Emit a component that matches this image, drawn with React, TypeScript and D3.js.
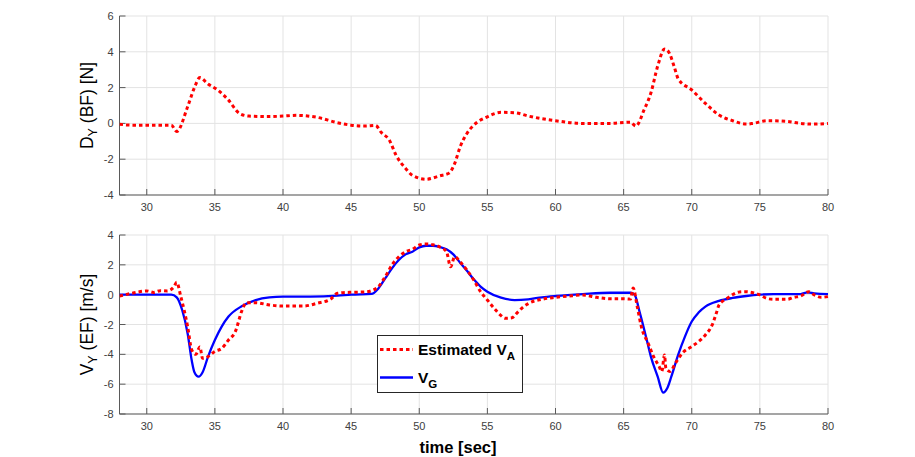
import React from "react";
import * as d3 from "d3";

const xTicks = [30, 35, 40, 45, 50, 55, 60, 65, 70, 75, 80];
const topYTicks = [-4, -2, 0, 2, 4, 6];
const botYTicks = [-8, -6, -4, -2, 0, 2, 4];

const dyTime = [28, 29, 30, 31, 31.8, 32.2, 33.0, 33.5, 33.9, 34.5, 35.2, 36.0, 36.8, 37.5, 39, 40, 41, 42.5, 44, 45, 46, 46.8, 47.2, 47.8, 48.3, 49, 49.5, 50.5, 51.5, 52.2, 52.6, 53, 53.5, 54, 55, 56, 57, 58, 60, 62, 64, 65.5, 65.9, 66.5, 67, 67.5, 68, 68.3, 68.7, 69, 70, 71, 72, 73, 74, 74.5, 75.5, 77, 78, 79, 80];
const dyValues = [-0.05, -0.1, -0.1, -0.1, -0.1, -0.45, 0.93, 2.0, 2.56, 2.2, 1.87, 1.3, 0.56, 0.41, 0.38, 0.41, 0.45, 0.34, 0.04, -0.1, -0.15, -0.12, -0.5, -0.93, -1.78, -2.52, -2.9, -3.12, -2.93, -2.77, -2.24, -1.31, -0.56, -0.1, 0.37, 0.62, 0.6, 0.41, 0.15, 0.0, 0.0, 0.07, -0.15, 0.75, 1.7, 3.2, 4.15, 4.0, 3.2, 2.5, 1.87, 1.12, 0.47, 0.15, -0.04, 0.0, 0.15, 0.11, 0.0, -0.04, 0.0];

const vaTime = [28, 29, 30, 30.5, 31, 31.5, 32, 32.2, 32.5, 33, 33.3, 33.6, 33.9, 34.1, 34.5, 35, 35.5, 36, 36.5, 37, 37.3, 38, 39, 40, 41.5, 42.5, 43.5, 44, 45, 46, 46.5, 47, 47.5, 48, 48.5, 49, 49.5, 50, 50.5, 51, 51.5, 52, 52.3, 52.6, 53, 53.5, 54, 54.5, 55, 55.5, 56, 56.3, 56.8, 57.2, 57.6, 58, 59, 60, 61, 62, 63, 64, 65, 65.5, 65.7, 66, 66.3, 66.8, 67.2, 67.6, 67.8, 68, 68.1, 68.4, 68.8, 69.3, 70, 70.5, 71, 71.5, 71.8, 72, 72.5, 73, 73.5, 74, 74.5, 75, 75.5, 76, 77, 77.5, 78, 78.6, 79, 79.5, 80];
const vaValues = [-0.1, 0.11, 0.25, 0.15, 0.27, 0.25, 0.53, 0.83, -0.13, -2.14, -3.7, -4.0, -3.5, -4.27, -4.15, -3.8, -3.6, -3.04, -2.48, -1.03, -0.54, -0.54, -0.69, -0.76, -0.76, -0.58, -0.29, 0.09, 0.16, 0.18, 0.27, 0.54, 1.2, 2.0, 2.54, 2.88, 3.04, 3.33, 3.4, 3.35, 3.2, 2.88, 1.87, 2.54, 2.2, 1.65, 0.98, 0.2, -0.36, -0.92, -1.4, -1.58, -1.55, -1.2, -0.85, -0.6, -0.31, -0.18, -0.09, -0.02, -0.18, -0.27, -0.27, -0.29, 0.45, -0.8, -2.14, -3.26, -4.15, -4.8, -5.15, -4.04, -4.93, -5.15, -4.6, -3.93, -3.48, -3.15, -2.7, -2.03, -1.25, -0.69, -0.31, 0.0, 0.18, 0.2, 0.13, -0.02, -0.25, -0.31, -0.31, -0.18, -0.09, 0.2, -0.02, -0.18, -0.13];

const vgTime = [28, 31.8, 32.2, 32.6, 33, 33.3, 33.5, 33.8, 34.1, 34.5, 35, 35.5, 36, 37, 38, 39, 40, 42, 44, 45, 46.5, 47, 47.5, 48, 48.5, 49, 49.5, 50, 50.5, 51, 51.5, 52, 52.5, 53, 53.5, 54, 54.5, 55, 56, 57, 58, 59, 60, 62, 64, 65.5, 65.8, 66.2, 66.7, 67, 67.5, 67.9, 68.2, 68.5, 69, 69.5, 70, 70.5, 71, 72, 73, 74, 75, 76, 78, 78.5, 79, 80];
const vgValues = [0, 0, -0.18, -1.03, -2.6, -4.4, -5.2, -5.5, -5.2, -4.15, -3.04, -2.14, -1.47, -0.76, -0.36, -0.18, -0.13, -0.13, -0.07, 0, 0.05, 0.42, 1.09, 1.76, 2.32, 2.7, 2.88, 3.17, 3.28, 3.28, 3.2, 3.04, 2.7, 2.14, 1.6, 1.03, 0.54, 0.2, -0.2, -0.36, -0.31, -0.18, -0.09, 0.04, 0.13, 0.13, 0.0, -1.25, -3.04, -4.15, -5.5, -6.56, -6.27, -5.5, -4.04, -2.81, -1.8, -1.2, -0.8, -0.42, -0.22, -0.09, 0, 0.04, 0.04, 0.16, 0.09, 0.04];

const FONT = "'Liberation Sans', Arial, Helvetica, sans-serif";
const LEFT = 119.5;
const RIGHT = 828;

const x = d3.scaleLinear().domain([28, 80]).range([LEFT, RIGHT]);

type Series = { t: number[]; v: number[]; color: string; width: number; dash?: string };

function Panel({ yDomain, yRange, yTicks, series, clipId }: { yDomain: [number, number]; yRange: [number, number]; yTicks: number[]; series: Series[]; clipId: string }) {
  const y = d3.scaleLinear().domain(yDomain).range(yRange);
  const [yb, yt] = yRange;
  const line = d3
    .line<[number, number]>()
    .x((d) => x(d[0]))
    .y((d) => y(d[1]))
    .curve(d3.curveMonotoneX);
  return (
    <g>
      <defs>
        <clipPath id={clipId}>
          <rect x={LEFT} y={yt - 2} width={RIGHT - LEFT + 1} height={yb - yt + 4} />
        </clipPath>
      </defs>
      {xTicks.map((t) => (
        <line key={"gx" + t} x1={x(t)} x2={x(t)} y1={yt} y2={yb} stroke="#e3e3e3" strokeWidth={1} />
      ))}
      {yTicks.map((t) => (
        <line key={"gy" + t} x1={LEFT} x2={RIGHT} y1={y(t)} y2={y(t)} stroke="#e3e3e3" strokeWidth={1} />
      ))}
      <line x1={LEFT} x2={LEFT} y1={yt} y2={yb} stroke="#5a5a5a" strokeWidth={1} />
      <line x1={LEFT} x2={RIGHT} y1={yb} y2={yb} stroke="#5a5a5a" strokeWidth={1.2} />
      {xTicks.map((t) => (
        <g key={"tx" + t}>
          <line x1={x(t)} x2={x(t)} y1={yb} y2={yb - 6} stroke="#5a5a5a" strokeWidth={1} />
          <text x={x(t)} y={yb + 16} textAnchor="middle" fontFamily={FONT} fontSize={11} fill="#404040">
            {t}
          </text>
        </g>
      ))}
      {yTicks.map((t) => (
        <g key={"ty" + t}>
          <line x1={LEFT} x2={LEFT + 6} y1={y(t)} y2={y(t)} stroke="#5a5a5a" strokeWidth={1} />
          <text x={LEFT - 6} y={y(t) + 4} textAnchor="end" fontFamily={FONT} fontSize={11} fill="#404040">
            {t}
          </text>
        </g>
      ))}
      <g clipPath={`url(#${clipId})`}>
        {series.map((s, i) => (
          <path
            key={i}
            d={line(s.t.map((tt, j) => [tt, s.v[j]] as [number, number])) || ""}
            fill="none"
            stroke={s.color}
            strokeWidth={s.width}
            strokeDasharray={s.dash}
            strokeLinejoin="round"
          />
        ))}
      </g>
    </g>
  );
}

export default function App() {
  const red: Series = { t: [], v: [], color: "#ff0000", width: 3, dash: "3.5 3" };
  return (
    <svg
      width={915}
      height={457}
      style={{ position: "absolute", left: 0, top: 0, background: "#fff" }}
      xmlns="http://www.w3.org/2000/svg"
    >
      <rect x={0} y={0} width={915} height={457} fill="#fff" />
      <Panel
        yDomain={[-4, 6]}
        yRange={[195, 16]}
        yTicks={topYTicks}
        clipId="clipTop"
        series={[{ ...red, t: dyTime, v: dyValues }]}
      />
      <Panel
        yDomain={[-8, 4]}
        yRange={[414, 235]}
        yTicks={botYTicks}
        clipId="clipBot"
        series={[
          { t: vgTime, v: vgValues, color: "#0000ff", width: 2.3 },
          { ...red, t: vaTime, v: vaValues },
        ]}
      />
      <text
        transform="translate(93,105.5) rotate(-90)"
        textAnchor="middle"
        fontFamily={FONT}
        fontSize={17.5}
        fill="#000"
      >
        D<tspan fontSize={12.5} dy={4}>Y</tspan>
        <tspan dy={-4}> (BF) [N]</tspan>
      </text>
      <text
        transform="translate(93,324.5) rotate(-90)"
        textAnchor="middle"
        fontFamily={FONT}
        fontSize={17.5}
        fill="#000"
      >
        V<tspan fontSize={12.5} dy={4}>Y</tspan>
        <tspan dy={-4}> (EF) [m/s]</tspan>
      </text>
      <text x={458} y={452.5} textAnchor="middle" fontFamily={FONT} fontSize={16.5} fontWeight="bold" fill="#000">
        time [sec]
      </text>
      <g>
        <rect x={377.5} y={335.5} width={145} height={57} fill="#fff" stroke="#262626" strokeWidth={1} />
        <line x1={380} x2={413} y1={349.5} y2={349.5} stroke="#ff0000" strokeWidth={3} strokeDasharray="3.5 3" />
        <text x={418} y={355} fontFamily={FONT} fontSize={15.5} fontWeight="bold" fill="#000">
          Estimated V<tspan fontSize={11.5} dy={5}>A</tspan>
        </text>
        <line x1={380} x2={413} y1={377.5} y2={377.5} stroke="#0000ff" strokeWidth={2.3} />
        <text x={418} y={383} fontFamily={FONT} fontSize={15.5} fontWeight="bold" fill="#000">
          V<tspan fontSize={11.5} dy={5}>G</tspan>
        </text>
      </g>
    </svg>
  );
}
